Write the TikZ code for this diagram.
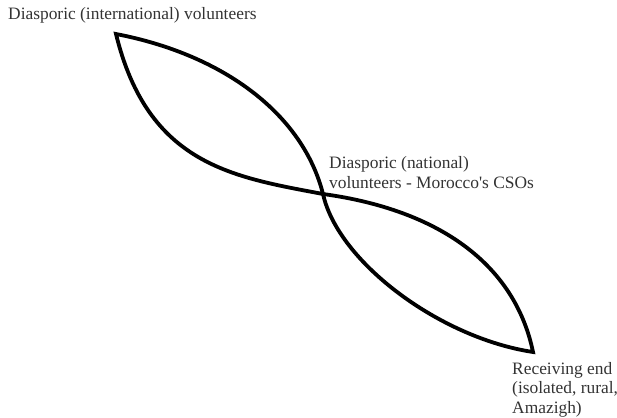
\documentclass[tikz,border=0pt]{standalone}
\usepackage{fontspec}
\setmainfont{Liberation Serif}
\begin{document}
\begin{tikzpicture}[x=1pt,y=-1pt,
  curve/.style={line width=3.8pt,line join=miter,draw=black},
  lbl/.style={inner sep=0pt,align=left,text=black!80,font=\fontsize{17.4}{19.5}\selectfont}]
\useasboundingbox (0,0) rectangle (617,417);
\coordinate (top) at (116,34);
\coordinate (mid) at (323,194);
\coordinate (bot) at (533,352);
\draw[curve] (top) .. controls (225,55) and (303,115) .. (mid)
  .. controls (338,262) and (440,338) .. (bot)
  .. controls (515,265) and (440,210) .. (mid)
  .. controls (233,177) and (148,165) .. (top) -- cycle;
\node[lbl,anchor=base west] (intl) at (8,20) {Diasporic (international) volunteers};
\node[lbl,anchor=base west] (natl) at (329,188) {Diasporic (national)\\volunteers - Morocco\textquotesingle s CSOs};
\node[lbl,anchor=base west] (recv) at (512,413) {Receiving end\\(isolated, rural,\\Amazigh)};
\end{tikzpicture}
\end{document}
